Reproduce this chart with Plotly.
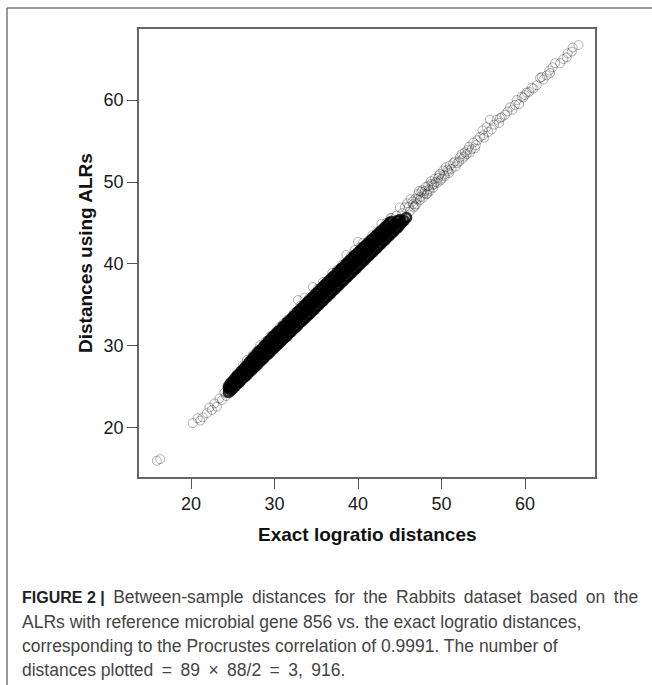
import plotly.graph_objects as go

# ---- data ----
dense_x = [
24.50,24.50,24.50, 24.75,24.75,24.75, 25.00,25.00,25.00, 25.25,25.25,25.25,
25.50,25.50,25.50, 25.75,25.75,25.75, 26.00,26.00,26.00, 26.25,26.25,26.25,
26.50,26.50,26.50, 26.75,26.75,26.75, 27.00,27.00,27.00, 27.25,27.25,27.25,
27.50,27.50,27.50, 27.75,27.75,27.75, 28.00,28.00,28.00, 28.25,28.25,28.25,
28.50,28.50,28.50, 28.75,28.75,28.75, 29.00,29.00,29.00, 29.25,29.25,29.25,
29.50,29.50,29.50, 29.75,29.75,29.75, 30.00,30.00,30.00, 30.25,30.25,30.25,
30.50,30.50,30.50, 30.75,30.75,30.75, 31.00,31.00,31.00, 31.25,31.25,31.25,
31.50,31.50,31.50, 31.75,31.75,31.75, 32.00,32.00,32.00, 32.25,32.25,32.25,
32.50,32.50,32.50, 32.75,32.75,32.75, 33.00,33.00,33.00, 33.25,33.25,33.25,
33.50,33.50,33.50, 33.75,33.75,33.75, 34.00,34.00,34.00, 34.25,34.25,34.25,
34.50,34.50,34.50, 34.75,34.75,34.75, 35.00,35.00,35.00, 35.25,35.25,35.25,
35.50,35.50,35.50, 35.75,35.75,35.75, 36.00,36.00,36.00, 36.25,36.25,36.25,
36.50,36.50,36.50, 36.75,36.75,36.75, 37.00,37.00,37.00, 37.25,37.25,37.25,
37.50,37.50,37.50, 37.75,37.75,37.75, 38.00,38.00,38.00, 38.25,38.25,38.25,
38.50,38.50,38.50, 38.75,38.75,38.75, 39.00,39.00,39.00, 39.25,39.25,39.25,
39.50,39.50,39.50, 39.75,39.75,39.75, 40.00,40.00,40.00, 40.25,40.25,40.25,
40.50,40.50,40.50, 40.75,40.75,40.75, 41.00,41.00,41.00, 41.25,41.25,41.25,
41.50,41.50,41.50, 41.75,41.75,41.75, 42.00,42.00,42.00, 42.25,42.25,42.25,
42.50,42.50,42.50, 42.75,42.75,42.75, 43.00,43.00,43.00, 43.25,43.25,43.25,
43.50,43.50,43.50, 43.75,43.75,43.75, 44.00,44.00,44.00, 44.25,44.25,
44.50,44.50, 44.75,44.75, 45.00,45.00, 45.25, 45.50, 45.80,
]
dense_y = [
24.35,24.85,25.10, 24.60,25.00,25.45, 24.80,25.35,25.70, 25.05,25.55,26.00,
25.35,25.80,26.35, 25.55,26.15,26.50, 25.85,26.35,26.90, 26.10,26.65,27.10,
26.30,26.90,27.45, 26.55,27.25,27.65, 26.85,27.40,28.05, 27.05,27.75,28.30,
27.35,27.95,28.65, 27.55,28.25,28.85, 27.80,28.40,29.20, 28.10,28.75,29.45,
28.30,29.05,29.65, 28.55,29.20,30.00, 28.85,29.55,30.20, 29.05,29.75,30.55,
29.30,30.05,30.75, 29.60,30.25,31.10, 29.80,30.55,31.30, 30.05,30.85,31.55,
30.30,31.00,31.80, 30.55,31.35,32.00, 30.80,31.50,32.35, 31.05,31.85,32.50,
31.25,32.05,32.85, 31.55,32.30,33.05, 31.75,32.60,33.30, 32.05,32.80,33.60,
32.25,33.10,33.80, 32.50,33.30,34.15, 32.80,33.55,34.35, 33.00,33.85,34.60,
33.25,34.05,34.90, 33.50,34.35,35.10, 33.75,34.55,35.40, 33.95,34.85,35.60,
34.25,35.05,35.90, 34.45,35.35,36.10, 34.75,35.55,36.45, 34.95,35.85,36.60,
35.25,36.05,36.95, 35.45,36.35,37.15, 35.75,36.55,37.45, 35.95,36.85,37.65,
36.25,37.05,37.95, 36.45,37.35,38.15, 36.75,37.55,38.45, 36.95,37.85,38.65,
37.25,38.05,38.95, 37.45,38.35,39.15, 37.75,38.55,39.45, 37.95,38.85,39.65,
38.25,39.05,39.95, 38.45,39.35,40.15, 38.75,39.55,40.45, 38.95,39.85,40.65,
39.25,40.05,40.95, 39.45,40.35,41.15, 39.75,40.55,41.40, 39.95,40.85,41.60,
40.25,41.05,41.90, 40.45,41.35,42.10, 40.75,41.55,42.35, 40.95,41.85,42.55,
41.25,42.05,42.85, 41.45,42.30,43.05, 41.75,42.55,43.30, 41.95,42.80,43.50,
42.25,43.05,43.80, 42.45,43.25,44.00, 42.75,43.55,44.25, 42.95,43.75,44.50,
43.25,44.05,44.70, 43.45,44.25,45.00, 43.75,44.50,45.20, 43.95,44.75,
44.25,44.95, 44.45,45.25, 44.75,45.40, 45.05, 45.30, 45.65,
]
sparse_x = [
15.9, 16.3, 20.2, 20.8, 21.4, 21.9, 22.5, 23.1, 21.1, 22.2, 22.8, 23.4, 23.7, 24.0, 24.2,
26.7, 28.3, 29.5, 30.6, 31.5, 32.8, 33.6, 34.6, 35.8, 36.9, 38.6, 39.6, 40.0, 40.6, 41.7,
42.8, 43.9, 45.0,
25.5, 26.2, 27.4, 27.9, 29.0, 30.2, 31.1, 32.3, 33.1, 34.1, 35.2, 36.2, 37.5, 38.1, 39.1,
40.3, 41.2, 42.3, 43.4, 44.0,
46.2, 46.5, 46.7, 46.9, 47.0, 47.2, 47.4, 47.6, 47.8, 48.0, 48.2, 48.4, 48.6, 48.8, 49.0,
49.2, 49.5, 49.7, 49.9, 50.2, 50.4, 50.7, 50.9,
44.6, 45.3, 45.6, 45.9, 46.1, 46.3, 46.6, 46.8, 47.1, 47.3, 47.5, 47.7, 47.9, 48.1, 48.3,
48.5, 48.7, 48.9, 49.1, 49.3, 49.6, 49.8, 50.0, 50.3, 50.5, 50.8, 51.0, 51.2, 51.6, 51.9,
52.1, 52.4, 52.7, 53.0, 53.3, 53.6, 54.3, 54.0, 55.0, 55.6, 56.3, 57.0, 57.9, 58.8, 59.8,
60.2, 60.8, 62.0, 62.9, 64.6, 65.7,
51.4, 51.7, 52.2, 52.5, 52.8, 53.1, 53.4, 53.8, 54.1, 54.6, 54.9, 55.1, 55.4, 55.8, 56.0,
56.6, 56.9, 57.2, 57.6, 58.2, 58.5, 59.0, 59.3, 59.6, 60.0, 60.5, 61.0, 61.4, 61.8, 62.2,
62.6, 63.0, 63.3, 63.6, 64.2, 65.0, 65.1, 65.6, 66.4,
]
sparse_y = [
16.0, 16.2, 20.6, 21.2, 21.3, 21.8, 22.2, 22.6, 20.9, 22.5, 23.0, 23.6, 23.4, 24.3, 23.9,
28.3, 30.1, 31.2, 32.3, 33.2, 35.6, 35.9, 37.2, 37.8, 38.9, 41.1, 41.7, 42.7, 42.6, 43.5,
44.9, 45.6, 46.9,
26.6, 27.6, 28.9, 29.4, 30.6, 31.8, 32.8, 34.0, 34.9, 35.8, 37.0, 37.8, 39.3, 39.9, 40.9,
42.1, 42.8, 44.0, 45.0, 45.6,
46.4, 47.6, 46.9, 48.0, 47.3, 48.5, 47.8, 48.8, 48.1, 48.9, 48.5, 49.5, 48.9, 49.8, 49.3,
50.4, 49.9, 50.8, 50.2, 51.4, 50.7, 51.5, 51.1,
45.9, 46.2, 46.9, 47.4, 47.0, 47.9, 47.3, 47.1, 47.9, 48.9, 48.2, 49.0, 48.6, 49.4, 48.6,
49.1, 50.1, 49.6, 49.7, 50.0, 50.5, 51.0, 50.4, 50.9, 51.8, 51.3, 52.0, 51.6, 52.5, 52.3,
52.5, 53.4, 53.1, 53.4, 54.3, 54.0, 55.1, 54.1, 55.7, 56.1, 57.0, 57.8, 58.6, 59.4, 60.3,
60.9, 61.5, 62.8, 63.6, 65.0, 66.4,
52.3, 51.9, 53.0, 52.8, 53.6, 53.9, 53.6, 54.8, 54.5, 55.5, 56.3, 55.4, 56.7, 57.6, 56.4,
57.6, 57.2, 57.9, 58.2, 59.1, 58.8, 60.0, 59.5, 60.4, 60.6, 61.0, 61.4, 61.8, 62.7, 62.5,
63.0, 63.3, 64.0, 64.5, 64.5, 65.2, 65.7, 65.9, 66.7,
]
tick_vals = [20, 30, 40, 50, 60]
x_title = "Exact logratio distances"
y_title = "Distances using ALRs"
caption_bold = "FIGURE 2 |"
caption_lines = [
    " Between-sample distances for the Rabbits dataset based on the",
    "ALRs with reference microbial gene 856 vs. the exact logratio distances,",
    "corresponding to the Procrustes correlation of 0.9991. The number of",
    "distances plotted",
]
caption_math = " = 89 × 88/2 = 3, 916."
caption_word_spacing = [3.6, 0, 0, 0]

W, H = 652, 685
L, R, T, B = 139, 595, 29, 477   # plot area in pixels
pw, ph = R - L, B - T

def px(xp):
    return (xp - L) / pw

def py(yp):
    return (B - yp) / ph

fig = go.Figure()
fig.add_trace(go.Scatter(
    x=dense_x, y=dense_y, mode="markers",
    marker=dict(symbol="circle-open", size=9, color="rgba(0,0,0,0.8)",
                line=dict(width=2.8, color="rgba(0,0,0,0.8)")),
    hoverinfo="skip", showlegend=False))
fig.add_trace(go.Scatter(
    x=sparse_x, y=sparse_y, mode="markers",
    marker=dict(symbol="circle-open", size=9, color="rgba(0,0,0,0.3)",
                line=dict(width=1, color="rgba(0,0,0,0.3)")),
    hoverinfo="skip", showlegend=False))

axis_common = dict(
    tickmode="array", tickvals=tick_vals, ticks="outside", ticklen=10,
    tickwidth=1.2, tickcolor="#555", showline=True, linecolor="#666",
    linewidth=1.5, mirror=True, showgrid=False, zeroline=False,
    tickfont=dict(family="Liberation Sans, Arial", size=18, color="#1a1a1a"),
)
fig.update_xaxes(range=[13.77, 68.38], **axis_common)
fig.update_yaxes(range=[14.02, 68.66], **axis_common)

ann = []
ann.append(dict(text="<b>" + x_title + "</b>", x=0.5, y=py(534), xref="paper", yref="paper",
                xanchor="center", yanchor="middle", showarrow=False,
                font=dict(family="Liberation Sans, Arial", size=19, color="#111")))
ann.append(dict(text="<b>" + y_title + "</b>", x=px(85), y=0.5, xref="paper", yref="paper",
                xanchor="center", yanchor="middle", showarrow=False, textangle=-90,
                font=dict(family="Liberation Sans, Arial", size=19, color="#111")))
for i, (line, yc, ws) in enumerate(zip(caption_lines, [597, 622, 646, 670], caption_word_spacing)):
    txt = '<span style="word-spacing:%.1fpx">%s</span>' % (ws, line)
    if i == 0:
        txt = ('<span style="font-weight:bold;font-size:16px;color:#222">' + caption_bold
               + '</span>' + txt)
    if i == 3:
        txt = txt + '<span style="word-spacing:3.6px">' + caption_math + '</span>'
    ann.append(dict(text=txt, x=px(20), y=py(yc), xref="paper", yref="paper",
                    xanchor="left", yanchor="middle", showarrow=False,
                    font=dict(family="Liberation Sans, Arial", size=17.5, color="#444")))

shapes = [
    dict(type="line", xref="paper", yref="paper", x0=px(7), x1=px(652), y0=py(8), y1=py(8),
         line=dict(color="#777", width=1.5)),
    dict(type="line", xref="paper", yref="paper", x0=px(7), x1=px(7), y0=py(8), y1=py(685),
         line=dict(color="#777", width=1.5)),
]

fig.update_layout(
    width=W, height=H, autosize=False,
    margin=dict(l=L, r=W - R, t=T, b=H - B, pad=0),
    paper_bgcolor="white", plot_bgcolor="white",
    annotations=ann, shapes=shapes,
)

fig.write_html("out.html", config={"displayModeBar": False})
